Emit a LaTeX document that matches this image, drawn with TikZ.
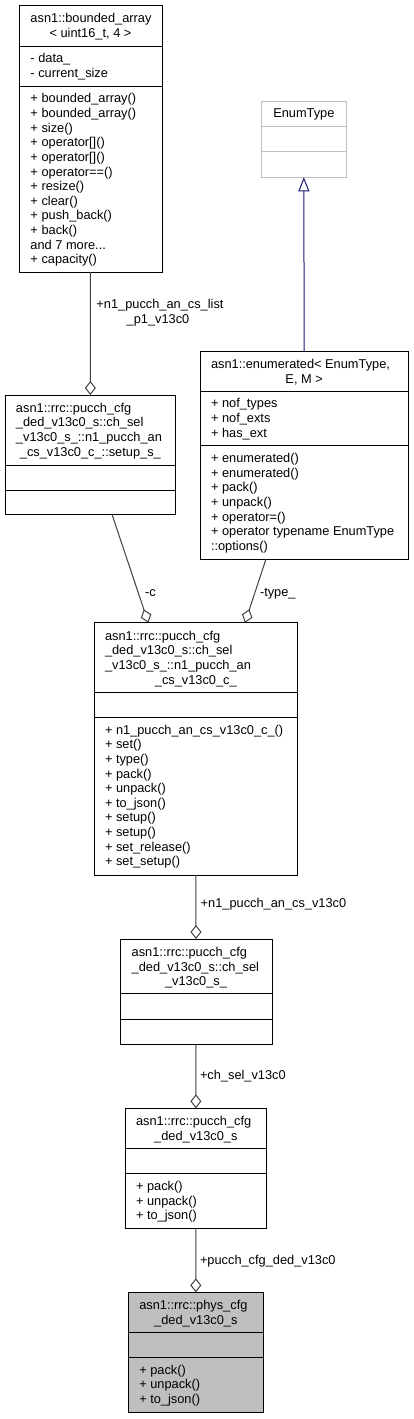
\documentclass[tikz,border=0pt]{standalone}
\usepackage{fontspec}
\setmainfont{Liberation Sans}
\usetikzlibrary{arrows.meta,calc}
\definecolor{edgegray}{HTML}{404040}
\definecolor{inhblue}{HTML}{191970}
\definecolor{boxgray}{HTML}{BFBFBF}
\newcommand\hsep[2]{\draw[sepline] ($(#1.north west)+(0,#2)$) -- ($(#1.north east)+(0,#2)$);}
\begin{document}
\begin{tikzpicture}[x=1pt,y=-1pt,
  txt/.style={font=\fontsize{12.8pt}{14.6pt}\selectfont, inner sep=0pt, outer sep=0pt, anchor=base west},
  ctxt/.style={txt, anchor=base},
  umlbox/.style={draw=black, line width=1pt, fill=white, inner sep=0pt, outer sep=0pt, anchor=north west},
  sepline/.style={draw=black, line width=1pt},
  agg/.style={draw=edgegray, line width=1pt, -{Diamond[open, length=14pt, width=11pt]}},
  inh/.style={draw=inhblue, line width=1pt, -{Triangle[open, length=14pt, width=11pt]}}]
\useasboundingbox (0,0) rectangle (413,1419);

% ---- bounded_array
\node[umlbox, minimum width=143pt, minimum height=267pt] (ba) at (19,5) {};
\hsep{ba}{41}\hsep{ba}{81}
\node[txt] (ba-t1) at (30.5,22.5) {asn1::bounded\_array};
\node[ctxt] (ba-t2) at (90.5,37.1) {< uint16\_t, 4 >};
\node[txt] (ba-a1) at (30.5,62.8) {- data\_};
\node[txt] (ba-a2) at (30.5,77.4) {- current\_size};
\foreach \mtext [count=\i from 0] in {+ bounded\_array(),+ bounded\_array(),+ size(),+ operator[](),+ operator[](),+ operator==(),+ resize(),+ clear(),+ push\_back(),+ back(),and 7 more{...},+ capacity()}
  \node[txt] (ba-m\i) at (30.5,102.8+14.64*\i) {\mtext};

% ---- EnumType
\node[umlbox, draw=boxgray, minimum width=84.3pt, minimum height=76.3pt] (et) at (261.7,101) {};
\draw[sepline, draw=boxgray] ($(et.north west)+(0,25.3)$) -- ($(et.north east)+(0,25.3)$);
\draw[sepline, draw=boxgray] ($(et.north west)+(0,50.7)$) -- ($(et.north east)+(0,50.7)$);
\node[ctxt] (et-t1) at (303.85,117.8) {EnumType};

% ---- enumerated
\node[umlbox, minimum width=208.3pt, minimum height=208pt] (en) at (200,351) {};
\hsep{en}{40}\hsep{en}{94.7}
\node[txt] (en-t1) at (211,368.5) {asn1::enumerated< EnumType,};
\node[ctxt] (en-t2) at (304.15,383.1) {E, M >};
\foreach \mtext [count=\i from 0] in {+ nof\_types,+ nof\_exts,+ has\_ext}
  \node[txt] (en-a\i) at (211,407.8+14.64*\i) {\mtext};
\foreach \mtext [count=\i from 0] in {+ enumerated(),+ enumerated(),+ pack(),+ unpack(),+ operator=(),+ operator typename EnumType,::options()}
  \node[txt] (en-m\i) at (211,462.5+14.64*\i) {\mtext};

% ---- setup_s_
\node[umlbox, minimum width=170.7pt, minimum height=119.3pt] (su) at (5,395) {};
\hsep{su}{70}\hsep{su}{95}
\node[txt] (su-t1) at (16,412.3) {asn1::rrc::pucch\_cfg};
\node[txt] (su-t2) at (16,426.9) {\_ded\_v13c0\_s::ch\_sel};
\node[txt] (su-t3) at (16,441.6) {\_v13c0\_s\_::n1\_pucch\_an};
\node[ctxt] (su-t4) at (90.35,456.2) {\_cs\_v13c0\_c\_::setup\_s\_};

% ---- n1_pucch_an_cs_v13c0_c_
\node[umlbox, minimum width=203pt, minimum height=252.3pt] (ch) at (94.3,622.7) {};
\hsep{ch}{70}\hsep{ch}{94.6}
\node[txt] (ch-t1) at (105,640.2) {asn1::rrc::pucch\_cfg};
\node[txt] (ch-t2) at (105,654.8) {\_ded\_v13c0\_s::ch\_sel};
\node[txt] (ch-t3) at (105,669.5) {\_v13c0\_s\_::n1\_pucch\_an};
\node[ctxt] (ch-t4) at (195.8,684.1) {\_cs\_v13c0\_c\_};
\foreach \mtext [count=\i from 0] in {+ n1\_pucch\_an\_cs\_v13c0\_c\_(),+ set(),+ type(),+ pack(),+ unpack(),+ to\_json(),+ setup(),+ setup(),+ set\_release(),+ set\_setup()}
  \node[txt] (ch-m\i) at (105,734.1+14.64*\i) {\mtext};

% ---- ch_sel_v13c0_s_
\node[umlbox, minimum width=152pt, minimum height=105.3pt] (cs) at (120,939) {};
\hsep{cs}{54.7}\hsep{cs}{80}
\node[txt] (cs-t1) at (131.7,956.5) {asn1::rrc::pucch\_cfg};
\node[txt] (cs-t2) at (131.7,971.1) {\_ded\_v13c0\_s::ch\_sel};
\node[ctxt] (cs-t3) at (196,985.8) {\_v13c0\_s\_};

% ---- pucch_cfg_ded_v13c0_s
\node[umlbox, minimum width=141.7pt, minimum height=120pt] (pc) at (125,1108.3) {};
\hsep{pc}{40}\hsep{pc}{65.4}
\node[txt] (pc-t1) at (136,1125.8) {asn1::rrc::pucch\_cfg};
\node[ctxt] (pc-t2) at (195.85,1140.4) {\_ded\_v13c0\_s};
\foreach \mtext [count=\i from 0] in {+ pack(),+ unpack(),+ to\_json()}
  \node[txt] (pc-m\i) at (136,1190.5+14.64*\i) {\mtext};

% ---- phys_cfg_ded_v13c0_s
\node[umlbox, fill=boxgray, minimum width=135pt, minimum height=120pt] (ph) at (128.3,1292.3) {};
\hsep{ph}{40}\hsep{ph}{65}
\node[txt] (ph-t1) at (139.3,1309.8) {asn1::rrc::phys\_cfg};
\node[ctxt] (ph-t2) at (195.8,1324.4) {\_ded\_v13c0\_s};
\foreach \mtext [count=\i from 0] in {+ pack(),+ unpack(),+ to\_json()}
  \node[txt] (ph-m\i) at (139.3,1374.1+14.64*\i) {\mtext};

% ---- connectors
\draw[inh] (en.north) -- (et.south);
\draw[agg] (ba.south) -- (su.north);
\node[ctxt] (l1a) at (160,308.5) {+n1\_pucch\_an\_cs\_list};
\node[ctxt] (l1b) at (158,323.1) {\_p1\_v13c0};

\coordinate (cS) at (112,514.3);
\coordinate (cE) at (148.3,622.7);
\draw[agg] (cS) -- (cE);
\node[txt] (l2) at (145,596) {-c};

\coordinate (tS) at (266,559);
\coordinate (tE) at (245,622.7);
\draw[agg] (tS) -- (tE);
\node[txt] (l3) at (260,596) {-type\_};

\draw[agg] (ch.south) -- (cs.north);
\node[txt] (l4) at (200.7,907.5) {+n1\_pucch\_an\_cs\_v13c0};

\draw[agg] (cs.south) -- (pc.north);
\node[txt] (l5) at (200,1079.8) {+ch\_sel\_v13c0};

\draw[agg] (pc.south) -- (ph.north);
\node[txt] (l6) at (200,1264.5) {+pucch\_cfg\_ded\_v13c0};
\end{tikzpicture}
\end{document}
